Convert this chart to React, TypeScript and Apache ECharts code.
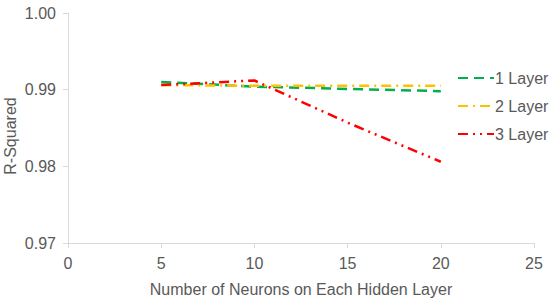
import React, { useEffect, useRef } from "react";
import * as echarts from "echarts";

const neurons = [5, 10, 15, 20];
const layer1 = [0.991, 0.9904, 0.9901, 0.9898];
const layer2 = [0.9906, 0.9905, 0.9905, 0.9905];
const layer3 = [0.9906, 0.9912, 0.9857, 0.9806];
const seriesNames = ["1 Layer", "2 Layer", "3 Layer"];

const FONT = "Liberation Sans, Arial, sans-serif";
const TXT = "#595959";
const AX = "#d9d9d9";
const FS = 16;

export default function App() {
  const ref = useRef<HTMLDivElement>(null);
  useEffect(() => {
    if (!ref.current) return;
    const chart = echarts.init(ref.current, undefined, { renderer: "svg" });
    const mk = (name: string, vals: number[], color: string, dash: number[]) => ({
      name,
      type: "line",
      data: neurons.map((x, i) => [x, vals[i]]),
      showSymbol: false,
      symbol: "none",
      lineStyle: { color, width: 2.5, type: dash },
      itemStyle: { color },
    });
    chart.setOption({
      animation: false,
      textStyle: { fontFamily: FONT },
      grid: { left: 68, right: 16, top: 13, bottom: 57, containLabel: false, outerBoundsMode: "none" },
      legend: {
        orient: "vertical",
        left: 452,
        top: 65,
        itemGap: 12,
        itemWidth: 36,
        itemHeight: 16,
        itemStyle: { opacity: 0 },
        textStyle: { color: TXT, fontSize: FS, fontFamily: FONT, padding: [0, 0, 0, -4] },
        data: seriesNames,
      },
      xAxis: {
        type: "value",
        min: 0,
        max: 25,
        interval: 5,
        name: "Number of Neurons on Each Hidden Layer",
        nameLocation: "middle",
        nameGap: 38,
        nameMoveOverlap: false,
        nameTextStyle: { color: TXT, fontSize: FS, fontFamily: FONT },
        axisLine: { lineStyle: { color: AX, width: 1 } },
        axisTick: { show: true, length: 5, lineStyle: { color: AX } },
        axisLabel: { color: TXT, fontSize: FS, margin: 12, fontFamily: FONT },
        splitLine: { show: false },
      },
      yAxis: {
        type: "value",
        min: 0.97,
        max: 1.0,
        interval: 0.01,
        name: "R-Squared",
        nameLocation: "middle",
        nameGap: 50,
        nameMoveOverlap: false,
        nameTextStyle: { color: TXT, fontSize: FS, fontFamily: FONT, padding: [0, 16, 0, 0] },
        axisLine: { show: true, lineStyle: { color: AX, width: 1 } },
        axisTick: { show: true, length: 5, lineStyle: { color: AX } },
        axisLabel: {
          color: TXT,
          fontSize: FS,
          margin: 12,
          fontFamily: FONT,
          formatter: (v: number) => v.toFixed(2),
        },
        splitLine: { show: false },
      },
      series: [
        mk(seriesNames[0], layer1, "#00B050", [10, 6]),
        mk(seriesNames[1], layer2, "#FFC000", [10, 5, 2, 5]),
        mk(seriesNames[2], layer3, "#FF0000", [10, 5, 2, 5, 2, 5]),
      ],
    });
    return () => chart.dispose();
  }, []);
  return <div ref={ref} style={{ width: 550, height: 300, position: "absolute", left: 0, top: 0 }} />;
}
